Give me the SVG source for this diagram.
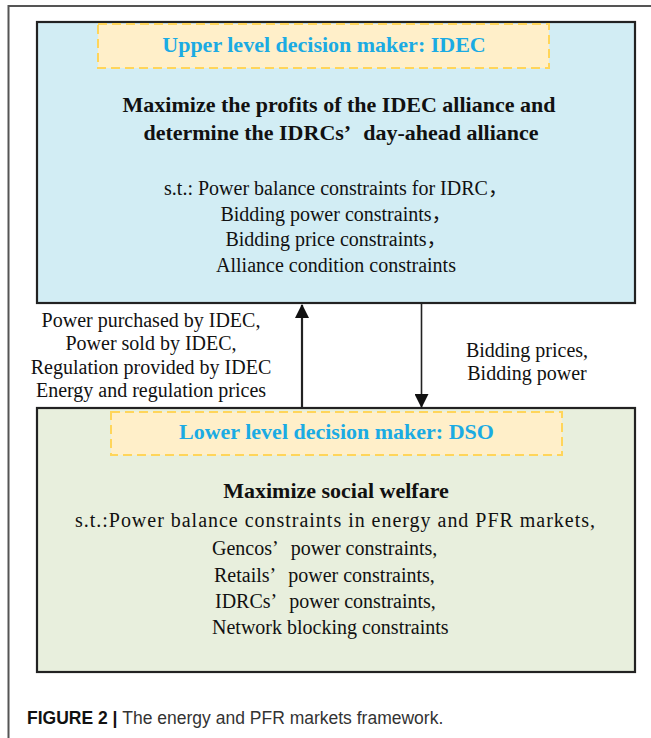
<svg xmlns="http://www.w3.org/2000/svg" width="651" height="738" viewBox="0 0 651 738">
<defs>
<style>
.box{stroke:#222;stroke-width:2.2}
.dash{fill:#FFEFC9;stroke:#FFD55A;stroke-width:2;stroke-dasharray:9 5}
.title{font-family:"Liberation Serif","Noto Sans CJK SC",serif;font-weight:bold;font-size:22px;fill:#1BABE3;text-anchor:middle}
.head{font-family:"Liberation Serif","Noto Sans CJK SC",serif;font-weight:bold;font-size:22px;fill:#111;text-anchor:middle}
.body{font-family:"Liberation Serif","Noto Sans CJK SC",serif;font-size:20px;fill:#111}
.mid{text-anchor:middle}
.conn{stroke:#222;fill:none}
.cap{font-family:"Liberation Sans",Arial,sans-serif;font-size:17.5px;fill:#333}
</style>
<marker id="ah" viewBox="0 0 14 14" refX="13" refY="7" markerWidth="14" markerHeight="14" markerUnits="userSpaceOnUse" orient="auto">
<path d="M0,0 L14,7 L0,14 Z" fill="#111"/>
</marker>
</defs>
<rect x="0" y="0" width="651" height="738" fill="#fff"/>
<rect x="8.5" y="6" width="700" height="800" fill="none" stroke="#555" stroke-width="2"/>

<g id="upper">
<rect class="box" x="37" y="22" width="598" height="281" fill="#D2EDF4"/>
<rect class="dash" x="98" y="24" width="451" height="44"/>
<text class="title" x="324" y="52">Upper level decision maker: IDEC</text>
<text class="head" x="339" y="112">Maximize the profits of the IDEC alliance and</text>
<text class="head" x="341" y="140">determine the IDRCs’<tspan dx="12">day-ahead alliance</tspan></text>
<text class="body mid" x="336" y="195">s.t.: Power balance constraints for IDRC，</text>
<text class="body mid" x="336" y="220.5">Bidding power constraints，</text>
<text class="body mid" x="336" y="246">Bidding price constraints，</text>
<text class="body mid" x="336" y="271.5">Alliance condition constraints</text>
</g>

<g id="lower">
<rect class="box" x="37" y="408" width="598" height="264" fill="#E8EFDD"/>
<rect class="dash" x="111" y="412" width="451" height="43"/>
<text class="title" x="336.5" y="439">Lower level decision maker: DSO</text>
<text class="head" x="336" y="498">Maximize social welfare</text>
<text class="body" x="75" y="527" textLength="520" lengthAdjust="spacing">s.t.:Power balance constraints in energy and PFR markets,</text>
<text class="body" x="212" y="555">Gencos’<tspan dx="12">power constraints,</tspan></text>
<text class="body" x="214" y="582">Retails’<tspan dx="12">power constraints,</tspan></text>
<text class="body" x="215" y="608">IDRCs’<tspan dx="12">power constraints,</tspan></text>
<text class="body" x="212" y="634">Network blocking constraints</text>
</g>

<g id="connectors">
<line class="conn" x1="302" y1="408" x2="302" y2="305" stroke-width="2.2" marker-end="url(#ah)"/>
<line class="conn" x1="421.5" y1="303" x2="421.5" y2="407" stroke-width="1.6" marker-end="url(#ah)"/>
</g>

<g id="labels">
<text class="body mid" x="151" y="326.5">Power purchased by IDEC,</text>
<text class="body mid" x="151" y="349.5">Power sold by IDEC,</text>
<text class="body mid" x="151" y="373.5">Regulation provided by IDEC</text>
<text class="body mid" x="151" y="396.5">Energy and regulation prices</text>
<text class="body mid" x="527" y="356.5">Bidding prices,</text>
<text class="body mid" x="527" y="379.5">Bidding power</text>
</g>

<g id="caption">
<text class="cap" x="27" y="724"><tspan font-weight="bold" fill="#111">FIGURE 2 | </tspan>The energy and PFR markets framework.</text>
</g>
</svg>
